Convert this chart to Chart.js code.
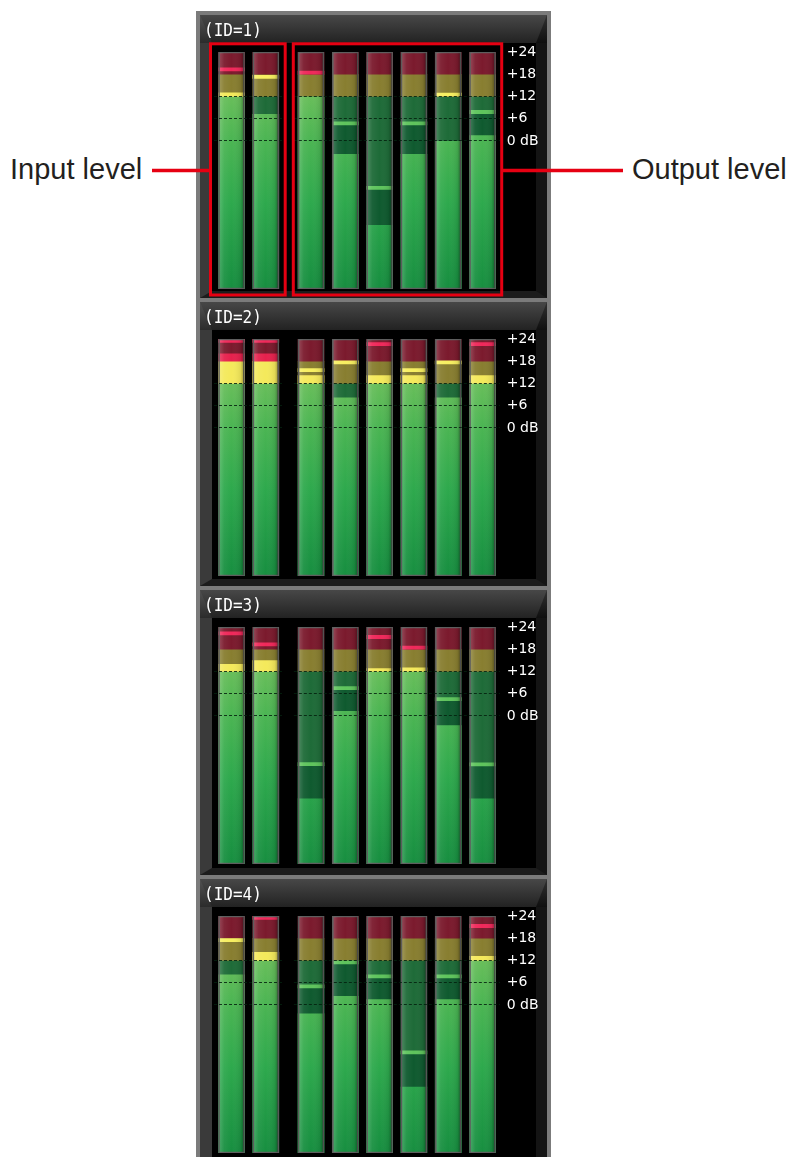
<!DOCTYPE html>
<html><head><meta charset="utf-8">
<script src="https://cdn.jsdelivr.net/npm/chart.js@4.4.1/dist/chart.umd.min.js"></script>
<style>
html,body{margin:0;padding:0;background:#fff;width:792px;height:1157px;overflow:hidden;position:relative;}
#rack{position:absolute;left:196px;top:11px;width:355px;height:1160px;background:#7b7b7b;}
.panel{position:absolute;left:199.5px;width:347px;box-sizing:border-box;background:#000;border-style:solid;border-width:28px 11px 7px 12px;border-color:#2e2e2e #141414 #1c1c1c #3a3a3a;}
.panel::before{content:"";position:absolute;left:-12px;right:-11px;top:-28px;height:28px;background:linear-gradient(to bottom,rgba(255,255,255,0.12),rgba(0,0,0,0.25));}
.title{position:absolute;left:204px;font-family:"DejaVu Sans Mono",monospace;font-size:16px;line-height:16px;color:#fff;transform:scaleY(1.15);transform-origin:left top;white-space:pre;z-index:3;}
canvas.meter{position:absolute;left:196px;z-index:2;}
.lbl{position:absolute;font-family:"Liberation Sans",Arial,sans-serif;font-size:29px;line-height:29px;color:#231f20;white-space:nowrap;}
#anno{position:absolute;left:0;top:0;z-index:10;pointer-events:none;}
</style>
</head><body>
<div id="rack"></div>
<div id="stage"></div>
<div class="lbl" style="left:10px;top:154.5px;">Input level</div>
<div class="lbl" style="left:632px;top:154.5px;">Output level</div>
<svg id="anno" width="792" height="1157">
  <rect x="210.5" y="43.8" width="74.7" height="251.2" fill="none" stroke="#e60012" stroke-width="3"/>
  <rect x="293.3" y="43.8" width="208.4" height="251.2" fill="none" stroke="#e60012" stroke-width="3"/>
  <line x1="152" y1="170.5" x2="209" y2="170.5" stroke="#e60012" stroke-width="3.5"/>
  <line x1="503" y1="170.5" x2="623" y2="170.5" stroke="#e60012" stroke-width="3.5"/>
</svg>
<script>
// ---- scale / axis data ----
const SCALE_MIN = -40, SCALE_MAX = 24;
const zoneEdges = [-40, 12, 18, 24];
const tickValues = [24, 18, 12, 6, 0];
const tickLabels = ['+24', '+18', '+12', '+6', '0 dB'];
const gridValues = [12, 6, 0];
const inputLabels = ['IN 1', 'IN 2'];
const outputLabels = ['OUT 1', 'OUT 2', 'OUT 3', 'OUT 4', 'OUT 5', 'OUT 6'];
const panelTitles = ['(ID=1)', '(ID=2)', '(ID=3)', '(ID=4)'];

// ---- meter values (dB): 2 inputs followed by 6 outputs ----
const id1Level = [13.0, 7.2, 11.9, -3.6, -22.8, -3.6, 0.0, 1.4];
const id1Peak  = [19.3, 17.3, 18.4, 4.7, -12.7, 4.7, 12.5, 7.8];
const id2Level = [20.0, 20.0, 14.1, 8.1, 14.1, 14.1, 8.1, 14.1];
const id2Peak  = [23.5, 23.5, 15.6, 17.7, 22.6, 15.6, 17.7, 22.6];
const id3Level = [13.9, 14.9, -22.4, 1.2, 12.8, 13.0, -2.6, -22.4];
const id3Peak  = [22.3, 19.3, -13.0, 7.5, 21.3, 18.4, 4.5, -13.1];
const id4Level = [8.1, 14.2, -2.4, 2.3, 1.4, -22.2, 1.4, 13.1];
const id4Peak  = [17.5, 23.5, 5.0, 11.5, 7.7, -12.8, 7.7, 21.3];

const panelLevels = [id1Level, id2Level, id3Level, id4Level];
const panelPeaks = [id1Peak, id2Peak, id3Peak, id4Peak];

// ---- layout / style constants ----
const bandTops = [11, 298, 586, 875];
const CANVAS_W = 355, CANVAS_H = 289;
const PAD_TOP = 41, PAD_BOTTOM = 11;
const IN_PAD_L = 18.35, IN_PAD_R = 268.05;
const OUT_PAD_L = 97.85, AXIS_W = 51.35;
const BAR_W = 26, PEAK_HALF = 0.42;
const COL = {
  redOff: '#7b1a2d', oliveOff: '#887e30', greenOff: '#1e6b38', hold: '#0f5a2f',
  redOn: '#e6214d', yellowOn: '#f4e95b',
  peakRed: '#f0285a', peakYellow: '#f7ef60', peakGreen: '#5ec45c'
};

function litGreenFill(ctx) {
  const ch = ctx.chart;
  if (!ch.chartArea) return '#3cae4e';
  const y = ch.scales.y;
  const g = ch.ctx.createLinearGradient(0, y.getPixelForValue(zoneEdges[1]), 0, y.getPixelForValue(SCALE_MIN));
  g.addColorStop(0, '#68be5a');
  g.addColorStop(0.22, '#4cb553');
  g.addColorStop(0.55, '#2ea94d');
  g.addColorStop(1, '#178e40');
  return g;
}
function sheenFill(ctx) {
  const ch = ctx.chart;
  if (!ch.chartArea) return 'rgba(0,0,0,0)';
  const cx = ch.scales.x.getPixelForValue(ctx.dataIndex);
  const g = ch.ctx.createLinearGradient(cx - BAR_W / 2, 0, cx + BAR_W / 2, 0);
  g.addColorStop(0, 'rgba(0,0,0,0.35)');
  g.addColorStop(0.08, 'rgba(255,255,255,0.16)');
  g.addColorStop(0.22, 'rgba(255,255,255,0.05)');
  g.addColorStop(0.5, 'rgba(255,255,255,0)');
  g.addColorStop(0.85, 'rgba(0,0,0,0.08)');
  g.addColorStop(1, 'rgba(0,0,0,0.4)');
  return g;
}
function peakColor(p) {
  if (p >= zoneEdges[2]) return COL.peakRed;
  if (p >= zoneEdges[1]) return COL.peakYellow;
  return COL.peakGreen;
}

function buildChart(canvas, labels, level, peak, isOutput) {
  const base = { type: 'bar', grouped: false, barThickness: BAR_W, borderSkipped: false, borderWidth: 0 };
  const lo = zoneEdges[0], g12 = zoneEdges[1], y18 = zoneEdges[2], top = zoneEdges[3];
  const datasets = [
    Object.assign({}, base, { label: 'housing', order: 0, data: labels.map(() => [lo, top]),
      backgroundColor: sheenFill, borderColor: '#5e5e5e', borderWidth: 1 }),
    Object.assign({}, base, { label: 'peak', order: 1,
      data: peak.map(p => [p - PEAK_HALF, p + PEAK_HALF]), backgroundColor: peak.map(peakColor) }),
    Object.assign({}, base, { label: 'level red', order: 2,
      data: level.map(v => v > y18 ? [y18, v] : null), backgroundColor: COL.redOn }),
    Object.assign({}, base, { label: 'level yellow', order: 2,
      data: level.map(v => v > g12 ? [g12, Math.min(v, y18)] : null), backgroundColor: COL.yellowOn }),
    Object.assign({}, base, { label: 'level green', order: 2,
      data: level.map(v => [lo, Math.min(v, g12)]), backgroundColor: litGreenFill }),
    Object.assign({}, base, { label: 'hold', order: 3,
      data: level.map((v, i) => (peak[i] < g12 && peak[i] > v) ? [v, peak[i] - PEAK_HALF] : null),
      backgroundColor: COL.hold }),
    Object.assign({}, base, { label: 'zone red', order: 4, data: labels.map(() => [y18, top]), backgroundColor: COL.redOff }),
    Object.assign({}, base, { label: 'zone olive', order: 4, data: labels.map(() => [g12, y18]), backgroundColor: COL.oliveOff }),
    Object.assign({}, base, { label: 'zone green', order: 4, data: labels.map(() => [lo, g12]), backgroundColor: COL.greenOff })
  ];
  return new Chart(canvas, {
    type: 'bar',
    data: { labels: labels, datasets: datasets },
    options: {
      responsive: false, animation: false, events: [],
      layout: { padding: { left: isOutput ? OUT_PAD_L : IN_PAD_L, right: isOutput ? 0 : IN_PAD_R, top: PAD_TOP, bottom: PAD_BOTTOM } },
      plugins: { legend: { display: false }, tooltip: { enabled: false }, title: { display: false } },
      scales: {
        x: { type: 'category', display: false, offset: true },
        y: {
          type: 'linear', min: SCALE_MIN, max: SCALE_MAX, position: isOutput ? 'right' : 'left',
          afterBuildTicks: s => { s.ticks = tickValues.map(v => ({ value: v })); },
          afterFit: s => { s.width = isOutput ? AXIS_W : 0; s.paddingTop = 0; s.paddingBottom = 0; },
          grid: { z: 1, drawTicks: false, lineWidth: 1,
            color: c => (c.tick && gridValues.includes(c.tick.value)) ? 'rgba(4,32,14,0.85)' : 'rgba(0,0,0,0)' },
          border: { display: false, dash: [3, 2] },
          ticks: { display: isOutput, padding: 7, color: '#ffffff', autoSkip: false,
            font: { family: 'DejaVu Sans', size: 14 },
            callback: v => { const k = tickValues.indexOf(v); return k >= 0 ? tickLabels[k] : ''; } }
        }
      }
    }
  });
}

const stage = document.getElementById('stage');
bandTops.forEach((bt, i) => {
  const p = document.createElement('div');
  p.className = 'panel';
  p.style.top = (bt + 4) + 'px';
  const nextTop = i < bandTops.length - 1 ? bandTops[i + 1] : 1175;
  p.style.height = (nextTop - bt - 4) + 'px';
  stage.appendChild(p);

  const t = document.createElement('div');
  t.className = 'title';
  t.style.top = (bt + 10) + 'px';
  t.textContent = panelTitles[i];
  stage.appendChild(t);

  const level = panelLevels[i], peak = panelPeaks[i];
  const nIn = inputLabels.length;
  [false, true].forEach(isOut => {
    const c = document.createElement('canvas');
    c.className = 'meter';
    c.width = CANVAS_W; c.height = CANVAS_H;
    c.style.top = bt + 'px';
    stage.appendChild(c);
    if (isOut) buildChart(c, outputLabels, level.slice(nIn), peak.slice(nIn), true);
    else buildChart(c, inputLabels, level.slice(0, nIn), peak.slice(0, nIn), false);
  });
});
</script>
</body></html>
